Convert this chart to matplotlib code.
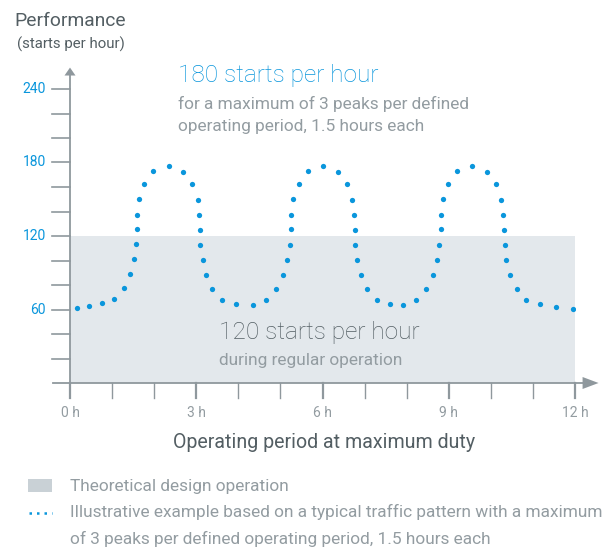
import numpy as np
import matplotlib
matplotlib.use("Agg")
from matplotlib import pyplot as plt
from matplotlib.patches import Rectangle
from matplotlib.lines import Line2D

plt.rcParams['font.family'] = ['Roboto', 'DejaVu Sans']

# data
design_capacity = 120
design_span = [0, 12]
hours = [0.16, 0.45, 0.75, 1.05, 1.28, 1.43, 1.52, 1.56, 1.59, 1.59, 1.64, 1.76, 1.98,
         2.35, 2.69, 2.91, 3.03, 3.07, 3.10, 3.10, 3.15, 3.24, 3.38, 3.62, 3.94, 4.36,
         4.66, 4.90, 5.07, 5.16, 5.23, 5.26, 5.26, 5.31, 5.43, 5.65, 6.01, 6.36, 6.58,
         6.69, 6.74, 6.77, 6.77, 6.82, 6.91, 7.06, 7.30, 7.60, 7.91, 8.21, 8.46, 8.62,
         8.72, 8.78, 8.81, 8.81, 8.86, 8.98, 9.20, 9.56, 9.91, 10.13, 10.24, 10.30,
         10.32, 10.33, 10.37, 10.46, 10.61, 10.84, 11.16, 11.55, 11.96]
starts = [61.0, 63.1, 65.5, 68.8, 77.8, 89.0, 101.2, 113.2, 125.4, 137.3, 150.1, 162.4, 172.7,
          177.1, 172.4, 162.1, 149.6, 136.8, 124.8, 112.6, 100.4, 88.1, 77.0, 67.7, 64.2, 63.9,
          67.5, 76.7, 88.1, 100.4, 112.6, 125.4, 137.3, 150.1, 162.6, 172.7, 177.1, 172.4, 162.1,
          149.6, 136.8, 124.8, 112.6, 100.4, 88.4, 77.0, 67.7, 64.2, 63.9, 67.5, 76.7, 88.1,
          100.4, 112.6, 125.4, 137.3, 150.1, 162.4, 172.7, 177.1, 172.4, 162.1, 149.6, 136.8,
          124.8, 112.6, 100.4, 88.4, 77.0, 67.7, 64.2, 61.8, 60.7]
y_ticks = [60, 120, 180, 240]
x_ticks = [0, 3, 6, 9, 12]
x_labels = ['0 h', '3 h', '6 h', '9 h', '12 h']

W, H = 614, 548
blue = '#0a96dc'
axis_grey = '#8f989d'
dark = '#535e63'
light = '#939ca1'
fill = '#e3e8ec'

def px(x, y):
    return x / W, 1 - y / H

fig = plt.figure(figsize=(W / 100, H / 100), dpi=100)
ax = fig.add_axes([70 / W, 1 - 383 / H, 505 / W, (383 - 89) / H])
ax.set_xlim(0, 12)
ax.set_ylim(0, 240)
ax.axis('off')

ax.fill_between(design_span, 0, design_capacity, color=fill, lw=0, zorder=1)
ax.plot(hours, starts, ls='none', marker='o', ms=3.8, mec='none', mfc=blue, zorder=3)

# axes drawn by hand with arrow heads
xu = 12 / 505  # hours per pixel
yu = 240 / 294  # starts per pixel
ax.plot([0, 0], [-15 * yu, 252], color=axis_grey, lw=1.3, clip_on=False, zorder=2)
ax.plot([-17 * xu, 12.3], [0, 0], color=axis_grey, lw=1.3, clip_on=False, zorder=2)
ax.add_patch(plt.Polygon([[-5.5 * xu, 251], [5.5 * xu, 251], [0, 257.5]], closed=True,
                         color=axis_grey, clip_on=False, lw=0))
ax.add_patch(plt.Polygon([[12.18, 6 * yu], [12.18, -6 * yu], [12.56, 0]], closed=True,
                         color=axis_grey, clip_on=False, lw=0))

for v in range(20, 241, 20):
    ax.plot([-18 * xu, 0], [v, v], color=axis_grey, lw=1.2, clip_on=False)
for v in y_ticks:
    ax.text(-24 * xu, v, str(v), color=blue, fontsize=10, ha='right', va='center')
for h in range(0, 13):
    ax.plot([h, h], [0, -15 * yu], color=axis_grey, lw=1.6 if h % 3 == 0 else 1.0,
            clip_on=False)
for h, lab in zip(x_ticks, x_labels):
    ax.text(h, -30 * yu, lab, color=light, fontsize=10, ha='center', va='center')

fig.text(*px(14, 21), 'Performance', color=dark, fontsize=13.9, va='center')
fig.text(*px(17, 44), '(starts per hour)', color=dark, fontsize=10.8, va='center')
fig.text(*px(178, 76), '180 starts per hour', color=blue, fontsize=17.6, va='center',
         fontweight='light')
fig.text(*px(178, 104), 'for a maximum of 3 peaks per defined', color=light,
         fontsize=12.4, va='center')
fig.text(*px(178, 127), 'operating period, 1.5 hours each', color=light,
         fontsize=12.4, va='center')
fig.text(*px(219, 332), '120 starts per hour', color=dark, fontsize=17.6, va='center',
         fontweight='light')
fig.text(*px(219, 361), 'during regular operation', color=light, fontsize=12.4,
         va='center')
fig.text(*px(324, 443), 'Operating period at maximum duty', color=dark, fontsize=14.1,
         ha='center', va='center')

# legend
x0, y0 = px(28, 492)
fig.patches.append(Rectangle((x0, y0), 24 / W, 13 / H, transform=fig.transFigure,
                             color='#c9d1d6', lw=0))
fig.lines.append(Line2D([29 / W, 52 / W], [1 - 513 / H] * 2, transform=fig.transFigure,
                        color=blue, lw=1.8, ls=(0, (1, 2.0))))
fig.text(*px(70, 486), 'Theoretical design operation', color=light, fontsize=12.4,
         va='center')
fig.text(*px(70, 512), 'Illustrative example based on a typical traffic pattern with a maximum',
         color=light, fontsize=12.4, va='center')
fig.text(*px(70, 539), 'of 3 peaks per defined operating period, 1.5 hours each',
         color=light, fontsize=12.4, va='center')

fig.savefig('out.png', dpi=100)
